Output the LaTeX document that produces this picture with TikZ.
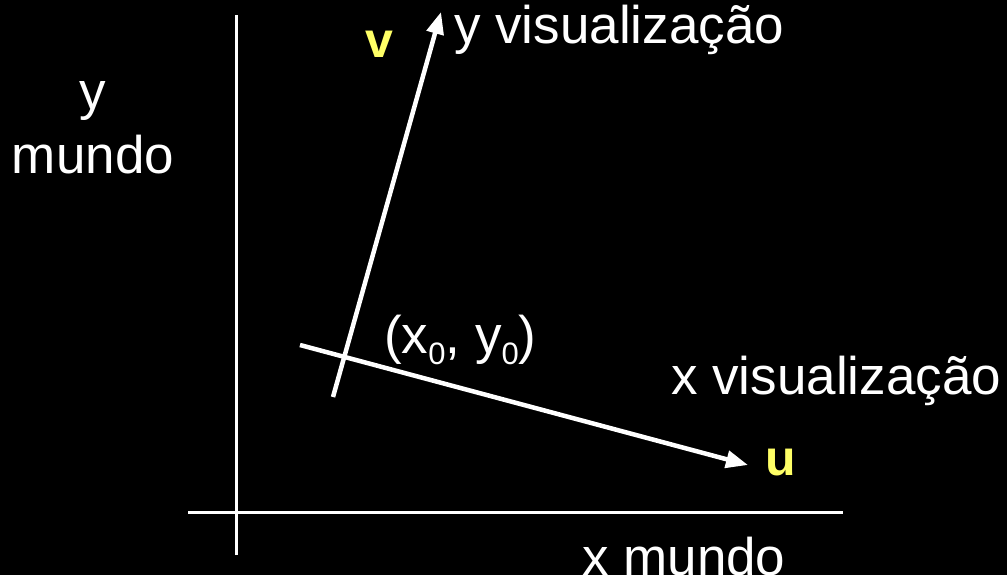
\documentclass[tikz,border=0pt]{standalone}
\usepackage{fontspec}
\setmainfont{Liberation Sans}
\usetikzlibrary{arrows.meta}
\definecolor{lblyellow}{HTML}{FFFF66}
\newcommand{\subz}{\raisebox{-0.4ex}{\fontsize{31}{31}\selectfont 0}}
\begin{document}
\begin{tikzpicture}[x=1pt,y=-1pt,
  worldaxis/.style={draw=white,line width=3pt},
  viewaxis/.style={draw=white,line width=4.5pt,-{Triangle[length=22pt,width=17pt]}},
  lbl/.style={text=white,font=\fontsize{53}{64}\selectfont,inner sep=0pt},
  vec/.style={text=lblyellow,font=\fontsize{50}{56}\selectfont\bfseries,inner sep=0pt}]
\fill[black] (0,0) rectangle (1007,575);
\useasboundingbox (0,0) rectangle (1007,575);
% world axes
\coordinate (wyt) at (236,15);
\coordinate (wyb) at (236,555);
\coordinate (wxl) at (188,512);
\coordinate (wxr) at (843,512);
\draw[worldaxis] (wyb) -- (wyt);
\draw[worldaxis] (wxl) -- (wxr);
% view axes
\coordinate (vs) at (333,397);
\coordinate (ve) at (441,12);
\coordinate (us) at (300,345);
\coordinate (ue) at (748,465);
\draw[viewaxis] (vs) -- (ve);
\draw[viewaxis] (us) -- (ue);
% labels
\node[lbl,anchor=west] (yvis) at (454,30) {y visualização};
\node[vec] (v) at (379,44) {v};
\node[lbl,align=center] (ymundo) at (93,128) {y\\mundo};
\node[lbl,anchor=west] (orig) at (384,340) {(x\subz, y\subz)};
\node[lbl,anchor=west] (xvis) at (671,381) {x visualização};
\node[vec] (u) at (781,463) {u};
\node[lbl,anchor=west] (xmundo) at (582,557) {x mundo};
\end{tikzpicture}
\end{document}
